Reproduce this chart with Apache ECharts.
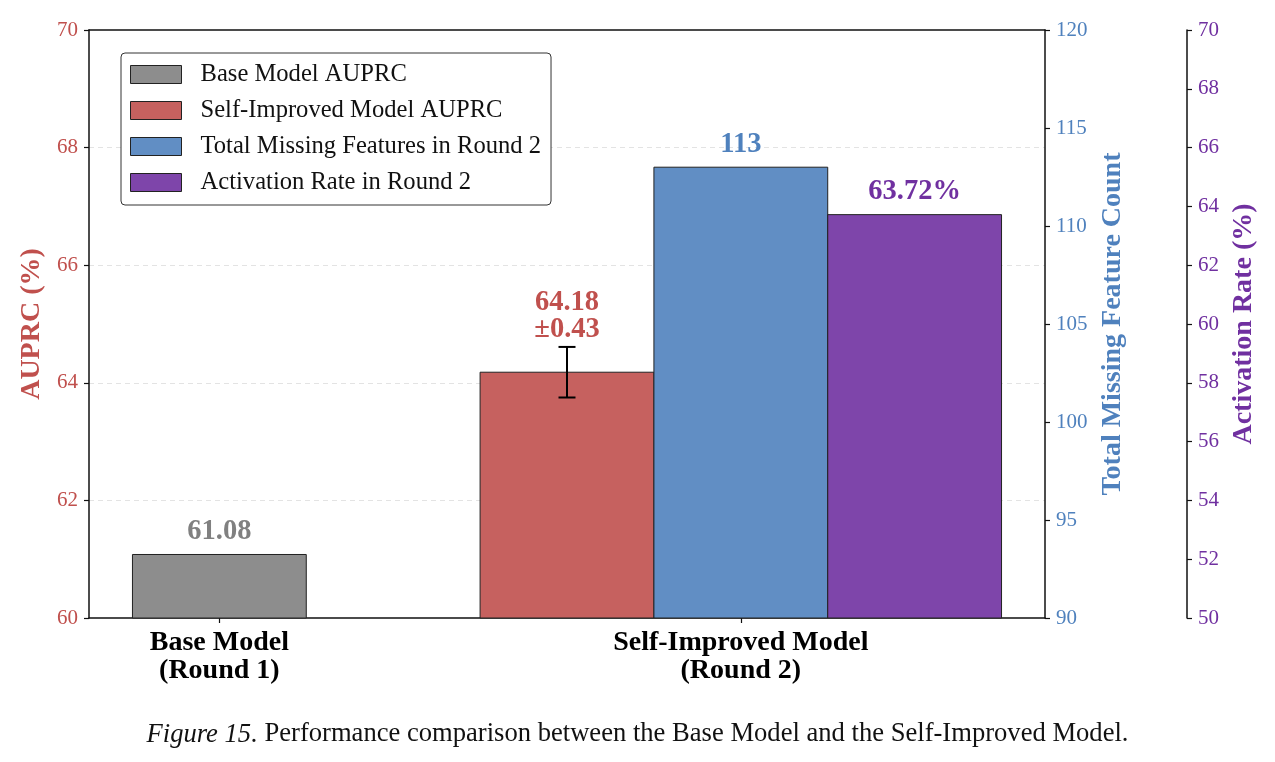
<!DOCTYPE html>
<html>
<head>
<meta charset="utf-8">
<script src="https://cdn.jsdelivr.net/npm/echarts@6/dist/echarts.min.js"></script>
<style>
  html, body { margin: 0; padding: 0; background: #fff; }
  #chart { width: 1275px; height: 762px; }
</style>
</head>
<body>
<div id="chart"></div>
<script>
// ---- data ----
const categories = ['Base Model\n(Round 1)', 'Self-Improved Model\n(Round 2)'];
const baseAuprc = [61.08];
const selfAuprc = [64.18];
const selfAuprcStd = [0.43];
const missingFeatures = [113];
const activationRate = [63.72];

const auprcRange = [60, 70, 2];
const featureRange = [90, 120, 5];
const rateRange = [50, 70, 2];

// ---- look ----
const FONT = '"Liberation Serif", "DejaVu Serif", serif';
const BAR_W = 1 / 3;
const C = {
  gray: '#8d8d8d', grayText: '#808080',
  red: '#c6615f', redText: '#c0504d',
  blue: '#618ec4', blueText: '#4f81bd',
  purple: '#7e45aa', purpleText: '#7030a0'
};

// x extent like matplotlib: bar edges plus 5% margin
const xLo = 0 - BAR_W / 2;
const xHi = 1 + 1.5 * BAR_W;
const xPad = (xHi - xLo) * 0.05;

function barSeries(name, yAxisIndex, base, values, pos, fill, textColor, labelFn, err) {
  return {
    name: name,
    type: 'custom',
    yAxisIndex: yAxisIndex,
    itemStyle: { color: fill, borderColor: '#222', borderWidth: 1 },
    data: values.map((v, i) => [pos[i], v, err ? err[i] : 0]),
    renderItem: function (params, api) {
      const x = api.value(0), y = api.value(1), e = api.value(2);
      const tl = api.coord([x - BAR_W / 2, y]);
      const br = api.coord([x + BAR_W / 2, base]);
      const children = [{
        type: 'rect',
        shape: { x: tl[0], y: tl[1], width: br[0] - tl[0], height: br[1] - tl[1] },
        style: { fill: fill, stroke: '#222', lineWidth: 1 }
      }];
      let topY = tl[1] - 9;
      if (e) {
        const hi = api.coord([x, y + e]);
        const lo = api.coord([x, y - e]);
        const cap = 8.5;
        const ls = { stroke: '#000', lineWidth: 2 };
        children.push(
          { type: 'line', shape: { x1: hi[0], y1: hi[1], x2: lo[0], y2: lo[1] }, style: ls },
          { type: 'line', shape: { x1: hi[0] - cap, y1: hi[1], x2: hi[0] + cap, y2: hi[1] }, style: ls },
          { type: 'line', shape: { x1: lo[0] - cap, y1: lo[1], x2: lo[0] + cap, y2: lo[1] }, style: ls }
        );
        topY = hi[1] - 4;
      }
      children.push({
        type: 'text',
        style: {
          text: labelFn(params.dataIndex),
          x: (tl[0] + br[0]) / 2, y: topY,
          align: 'center', verticalAlign: 'bottom',
          fill: textColor, font: 'bold 28.5px ' + FONT, lineHeight: 27
        }
      });
      return { type: 'group', children: children };
    }
  };
}

function yAxis(name, range, color, position, offset, nameGap, grid) {
  return {
    type: 'value', name: name, position: position, offset: offset,
    min: range[0], max: range[1], interval: range[2],
    nameLocation: 'middle', nameGap: nameGap,
    nameTextStyle: { color: color, fontFamily: FONT, fontWeight: 'bold', fontSize: 28 },
    axisLine: { show: true, onZero: false, lineStyle: { color: '#111', width: 1.5 } },
    axisTick: { show: true, length: 5, lineStyle: { color: '#111', width: 1.2 } },
    axisLabel: { color: color, fontFamily: FONT, fontSize: 21, margin: 11 },
    splitLine: grid
      ? { show: true, showMinLine: false, showMaxLine: false,
          lineStyle: { color: '#e3e3e3', type: [5, 4], width: 1 } }
      : { show: false }
  };
}

const chart = echarts.init(document.getElementById('chart'));
const legendNames = ['Base Model AUPRC', 'Self-Improved Model AUPRC',
  'Total Missing Features in Round 2', 'Activation Rate in Round 2'];
const legendFill = [C.gray, C.red, C.blue, C.purple];

chart.setOption({
  animation: false,
  title: {
    text: '{i|Figure 15.} Performance comparison between the Base Model and the Self-Improved Model.',
    left: 'center', top: 716,
    textStyle: {
      fontFamily: FONT, fontSize: 26.6, fontWeight: 'normal', color: '#111',
      rich: { i: { fontFamily: FONT, fontSize: 26.6, fontStyle: 'italic', color: '#111' } }
    }
  },
  grid: { left: 89, right: 230, top: 30, bottom: 144, show: false },
  legend: {
    orient: 'vertical', left: 121, top: 53,
    padding: [9, 10, 10, 9], itemGap: 11,
    itemWidth: 51, itemHeight: 18,
    backgroundColor: '#fff', borderColor: '#333', borderWidth: 1, borderRadius: 4,
    icon: 'rect',
    textStyle: { fontFamily: FONT, fontSize: 24.6, color: '#111', lineHeight: 24, padding: [0, 0, 0, 14] },
    data: legendNames.map((n, i) => ({
      name: n, itemStyle: { color: legendFill[i], borderColor: '#222', borderWidth: 1 }
    }))
  },
  xAxis: [{
    type: 'value', min: xLo - xPad, max: xHi + xPad,
    axisLine: { show: true, onZero: false, lineStyle: { color: '#111', width: 1.5 } },
    axisTick: { show: true, length: 5, customValues: [0, 1], lineStyle: { color: '#111', width: 1.2 } },
    axisLabel: {
      customValues: [0, 1], margin: 11,
      formatter: v => categories[Math.round(v)],
      fontFamily: FONT, fontWeight: 'bold', fontSize: 28, lineHeight: 28, color: '#000'
    },
    splitLine: { show: false }
  }, {
    // top spine only
    type: 'value', position: 'top', min: xLo - xPad, max: xHi + xPad,
    axisLine: { show: true, onZero: false, lineStyle: { color: '#111', width: 1.5 } },
    axisTick: { show: false }, axisLabel: { show: false }, splitLine: { show: false }
  }],
  yAxis: [
    yAxis('AUPRC (%)', auprcRange, C.redText, 'left', 0, 32, true),
    yAxis('Total Missing Feature Count', featureRange, C.blueText, 'right', 0, 40, false),
    yAxis('Activation Rate (%)', rateRange, C.purpleText, 'right', 142, 37, false)
  ],
  series: [
    barSeries(legendNames[0], 0, auprcRange[0], baseAuprc, [0], C.gray, C.grayText,
      i => baseAuprc[i].toFixed(2)),
    barSeries(legendNames[1], 0, auprcRange[0], selfAuprc, [1 - BAR_W], C.red, C.redText,
      i => selfAuprc[i].toFixed(2) + '\n±' + selfAuprcStd[i].toFixed(2), selfAuprcStd),
    barSeries(legendNames[2], 1, featureRange[0], missingFeatures, [1], C.blue, C.blueText,
      i => String(missingFeatures[i])),
    barSeries(legendNames[3], 2, rateRange[0], activationRate, [1 + BAR_W], C.purple, C.purpleText,
      i => activationRate[i].toFixed(2) + '%')
  ]
});
</script>
</body>
</html>
